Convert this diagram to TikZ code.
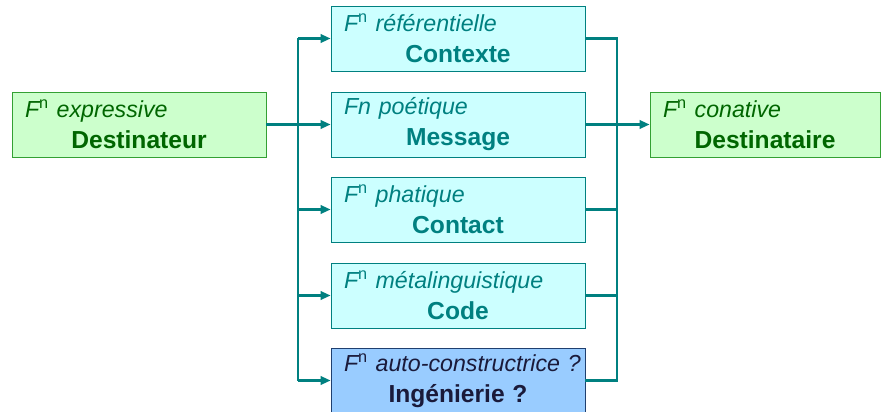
\documentclass[tikz,border=0pt]{standalone}
\usepackage{fontspec}
\setmainfont{Liberation Sans}
\usetikzlibrary{arrows.meta}
\definecolor{teal}{HTML}{008080}
\definecolor{vertfond}{HTML}{CCFFCC}
\definecolor{vertbord}{HTML}{33A033}
\definecolor{vertfonce}{HTML}{006600}
\definecolor{cyanfond}{HTML}{CCFFFF}
\definecolor{bleufond}{HTML}{99CCFF}
\definecolor{bleubord}{HTML}{1F3F6F}
\definecolor{bleutexte}{HTML}{1A1A3A}
\newcommand{\fn}{F\textsuperscript{\upshape n}}
\newcommand{\deuxlignes}[2]{{\raggedright\itshape\hspace*{5pt}\mbox{#1}\par}\vspace{3pt}%
  {\centering\fontsize{17.5}{19}\selectfont\bfseries #2\par}}

\begin{document}
\begin{tikzpicture}[x=0.025cm,y=-0.025cm,
        boite/.style={draw, line width=0.6pt, minimum height=1.625cm,
          text width=6.05cm, inner xsep=0.15cm, inner ysep=0pt,
          font=\fontsize{16.5}{19}\selectfont},
        pole/.style={boite, fill=vertfond, draw=vertbord, text=vertfonce,
          minimum width=6.35cm},
        fonction/.style={boite, fill=cyanfond, draw=teal, text=teal},
        fil/.style={draw=teal, line width=1.5pt},
        fleche/.style={fil, -{Triangle[length=7pt,width=6pt]}}]
        \useasboundingbox (0,0) rectangle (893,412);

        \node[pole] (dest) at (139,124.5)
        {\deuxlignes{\fn\ expressive}{Destinateur}};
        \node[pole, text width=5.45cm, minimum width=5.75cm] (dst)
        at (765,124.5) {\deuxlignes{\fn\ conative}{Destinataire}};

        \node[fonction] (ctx) at (458,38.5)
        {\deuxlignes{\fn\ référentielle}{Contexte}};
        \node[fonction] (msg) at (458,124.5)
        {\deuxlignes{Fn poétique}{Message}};
        \node[fonction] (cnt) at (458,209.5)
        {\deuxlignes{\fn\ phatique}{Contact}};
        \node[fonction] (code) at (458,295.5)
        {\deuxlignes{\fn\ métalinguistique}{Code}};
        \node[fonction, fill=bleufond, draw=bleubord, text=bleutexte] (ing)
        at (458,380.5) {\deuxlignes{\fn\ auto-constructrice ?}{Ingénierie ?}};

        \coordinate (gauche) at (298,0);
        \coordinate (droite) at (617,0);

        \draw[fil] (gauche |- ctx.west) -- (gauche |- ing.west);
        \draw[fleche] (dest.east) -- (msg.west);
        \draw[fleche] (gauche |- ctx.west) -- (ctx.west);
        \draw[fleche] (gauche |- cnt.west) -- (cnt.west);
        \draw[fleche] (gauche |- code.west) -- (code.west);
        \draw[fleche] (gauche |- ing.west) -- (ing.west);

        \draw[fil] (ctx.east) -- (droite |- ctx.east) -- (droite |- ing.east)
        -- (ing.east);
        \draw[fil] (cnt.east) -- (droite |- cnt.east);
        \draw[fil] (code.east) -- (droite |- code.east);
        \draw[fleche] (msg.east) -- (dst.west);
      \end{tikzpicture}
\end{document}
